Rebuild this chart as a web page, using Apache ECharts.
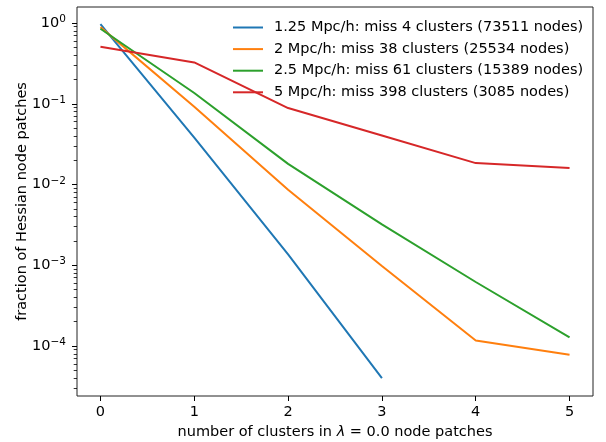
<!DOCTYPE html>
<html>
<head>
<meta charset="utf-8">
<script src="https://cdn.jsdelivr.net/npm/echarts@6/dist/echarts.min.js"></script>
<style>
  html, body { margin: 0; padding: 0; background: #fff; }
  #chart { width: 606px; height: 442px; }
</style>
</head>
<body>
<div id="chart"></div>
<script>
// cluster counts on the x axis
const clusters = [0, 1, 2, 3, 4, 5];

// fraction of Hessian node patches
const miss1p25 = [0.97, 0.038, 0.00136, 0.00004];
const miss2 = [0.89, 0.092, 0.0086, 0.00098, 0.000117, 0.000078];
const miss2p5 = [0.85, 0.136, 0.018, 0.0032, 0.00062, 0.000128];
const miss5 = [0.51, 0.325, 0.0885, 0.0405, 0.0184, 0.016];

const seriesNames = [
    '1.25 Mpc/h: miss 4 clusters (73511 nodes)',
    '2 Mpc/h: miss 38 clusters (25534 nodes)',
    '2.5 Mpc/h: miss 61 clusters (15389 nodes)',
    '5 Mpc/h: miss 398 clusters (3085 nodes)'
];
const colors = ['#1f77b4', '#ff7f0e', '#2ca02c', '#d62728'];

const yMajor = [1e-4, 1e-3, 1e-2, 1e-1, 1];
const yMinor = [];
for (let e = -5; e <= 0; e++) {
    for (let k = 2; k <= 9; k++) yMinor.push(+(k * Math.pow(10, e)).toPrecision(3));
}

const yMin = 2.4e-5, yMax = 1.58;
const font = 'DejaVu Sans';
const fs = 14.5;

const pairs = arr => arr.map((v, i) => [clusters[i], v]);

const myChart = echarts.init(document.getElementById('chart'));
myChart.setOption({
    animation: false,
    textStyle: {fontFamily: font},
    grid: {
        left: 77, right: 13, top: 7, bottom: 46,
        outerBoundsMode: 'none',
        show: true,
        borderColor: '#222',
        borderWidth: 1
    },
    legend: {
        orient: 'vertical',
        left: 228,
        top: 15,
        icon: 'rect',
        itemWidth: 30,
        itemHeight: 2,
        itemGap: 6.6,
        textStyle: {fontSize: fs, lineHeight: 14, color: '#000', fontFamily: font, padding: [0, 0, 0, 6]},
        data: seriesNames
    },
    xAxis: {
        type: 'value',
        min: -0.25,
        max: 5.25,
        name: '{n|number of clusters in }{it|λ}{n| = 0.0 node patches}',
        nameLocation: 'middle',
        nameGap: 29,
        nameMoveOverlap: false,
        nameTextStyle: {
            rich: {
                n: {fontSize: fs, color: '#000', fontFamily: font},
                it: {fontSize: fs, color: '#000', fontFamily: font, fontStyle: 'italic'}
            }
        },
        axisLine: {show: false, onZero: false},
        splitLine: {show: false},
        axisTick: {length: 5, lineStyle: {color: '#000'}, customValues: clusters},
        axisLabel: {
            fontSize: fs, color: '#000', margin: 9,
            customValues: clusters
        }
    },
    yAxis: [
        {
            type: 'log',
            logBase: 10,
            min: yMin,
            max: yMax,
            position: 'left',
            name: 'fraction of Hessian node patches',
            nameLocation: 'middle',
            nameGap: 47,
            nameMoveOverlap: false,
            nameTextStyle: {fontSize: fs, color: '#000', fontFamily: font},
            axisLine: {show: false, onZero: false},
            splitLine: {show: false},
            axisTick: {length: 5, lineStyle: {color: '#000'}, customValues: yMajor},
            axisLabel: {
                color: '#000',
                margin: 11,
                customValues: yMajor,
                formatter: v => {
                    const e = Math.round(Math.log10(v));
                    return '{b|10}{s|' + (e < 0 ? '\u2212' + (-e) : e) + '}';
                },
                rich: {
                    b: {fontSize: fs, color: '#000', fontFamily: font, padding: [1.5, 0, 1.5, 0], verticalAlign: 'bottom'},
                    s: {fontSize: 10.5, color: '#000', fontFamily: font, verticalAlign: 'top'}
                }
            }
        },
        {
            type: 'log',
            logBase: 10,
            min: yMin,
            max: yMax,
            position: 'left',
            axisLine: {show: false, onZero: false},
            splitLine: {show: false},
            axisLabel: {show: false},
            axisTick: {length: 3.3, lineStyle: {color: '#000', width: 0.8}, customValues: yMinor}
        }
    ],
    series: [miss1p25, miss2, miss2p5, miss5].map((vals, i) => ({
        name: seriesNames[i],
        type: 'line',
        data: pairs(vals),
        symbol: 'none',
        color: colors[i],
        lineStyle: {width: 2, color: colors[i]}
    }))
});
</script>
</body>
</html>
